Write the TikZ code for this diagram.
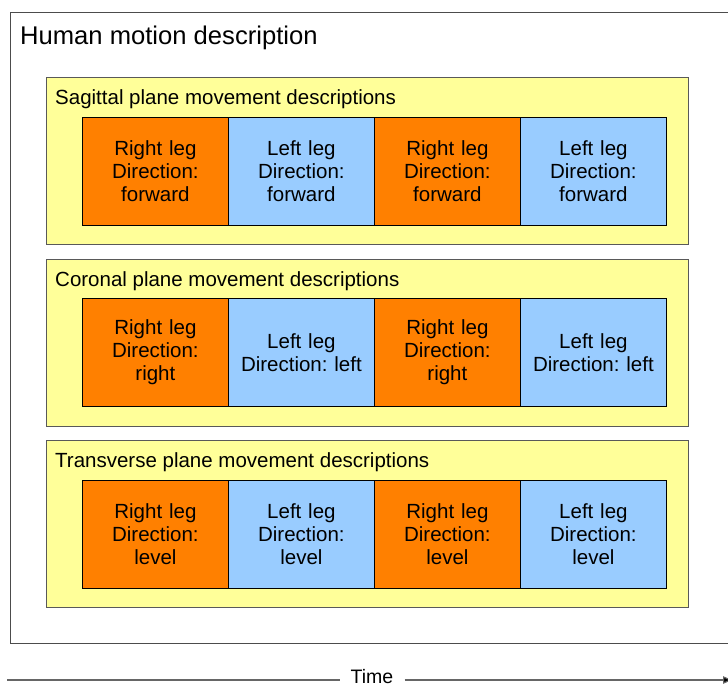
\documentclass[tikz,border=0pt]{standalone}
\usepackage{fontspec}
\setmainfont{Liberation Sans}
\usetikzlibrary{arrows.meta}
\definecolor{legR}{HTML}{FF8000}
\definecolor{legL}{HTML}{99CCFF}
\definecolor{panelY}{HTML}{FFFF99}
\frenchspacing
\begin{document}
\frenchspacing
\begin{tikzpicture}[x=1pt,y=-1pt,
  cell/.style={draw=black, line width=0.8pt, minimum width=146pt, minimum height=108pt,
    inner sep=0pt, text width=140pt, align=center,
    font=\fontsize{20.5}{23}\selectfont, anchor=north west},
  rcell/.style={cell, fill=legR},
  lcell/.style={cell, fill=legL},
  panel/.style={draw=black!65, line width=0.9pt, fill=panelY, minimum width=642pt,
    minimum height=167pt, anchor=north west, inner sep=0pt},
  plabel/.style={anchor=west, font=\fontsize{20.5}{23}\selectfont, inner sep=0pt},
  outerbox/.style={draw=black!70, line width=0.9pt, minimum width=740pt, minimum height=631pt,
    anchor=north west, inner sep=0pt},
  timeline/.style={draw=black!60, line width=1.2pt},
]
\useasboundingbox (0,0) rectangle (728,683);

\node[outerbox] (outer) at (10,12) {};
\node[anchor=west, inner sep=0pt, font=\fontsize{25.6}{28}\selectfont] (title) at (20,38) {Human motion description};

% Sagittal
\node[panel] (p1) at (46,77) {};
\node[plabel] (p1l) at (55,99) {Sagittal plane movement descriptions};
\node[rcell] (c11) at (82,117)  {Right leg\\Direction:\\forward};
\node[lcell] (c12) at (228,117) {Left leg\\Direction:\\forward};
\node[rcell] (c13) at (374,117) {Right leg\\Direction:\\forward};
\node[lcell] (c14) at (520,117) {Left leg\\Direction:\\forward};

% Coronal
\node[panel] (p2) at (46,259) {};
\node[plabel] (p2l) at (55,281) {Coronal plane movement descriptions};
\node[rcell] (c21) at (82,298)  {Right leg\\Direction:\\right};
\node[lcell] (c22) at (228,298) {Left leg\\Direction: left};
\node[rcell] (c23) at (374,298) {Right leg\\Direction:\\right};
\node[lcell] (c24) at (520,298) {Left leg\\Direction: left};

% Transverse
\node[panel] (p3) at (46,440) {};
\node[plabel] (p3l) at (55,462) {Transverse plane movement descriptions};
\node[rcell] (c31) at (82,480)  {Right leg\\Direction:\\level};
\node[lcell] (c32) at (228,480) {Left leg\\Direction:\\level};
\node[rcell] (c33) at (374,480) {Right leg\\Direction:\\level};
\node[lcell] (c34) at (520,480) {Left leg\\Direction:\\level};

% Time axis
\coordinate (t0) at (7,680);
\coordinate (t1) at (734,680);
\node[inner xsep=11pt, inner ysep=0pt, font=\fontsize{19.5}{20}\selectfont] (time) at (372,677) {Time};
\draw[timeline] (t0) -- (t0 -| time.west);
\draw[timeline, -{Latex[length=11pt,width=8pt,fill=black]}] (t0 -| time.east) -- (t1);
\end{tikzpicture}
\end{document}
